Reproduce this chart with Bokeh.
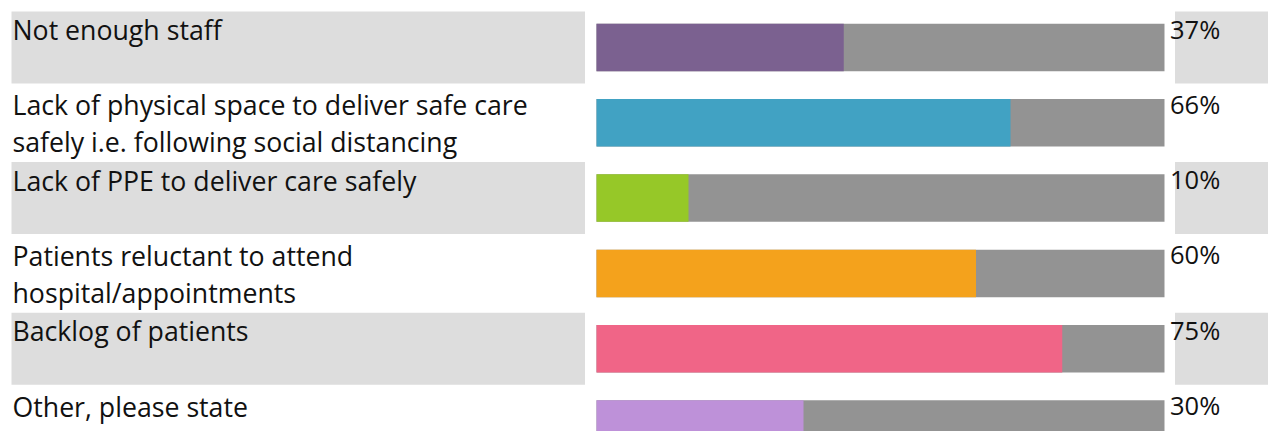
from bokeh.plotting import figure
from bokeh.models import Range1d, ColumnDataSource
from bokeh.embed import file_html
from bokeh.resources import INLINE
from bokeh.core.properties import value

# ---- data ----
categories = [
    "Not enough staff",
    "Lack of physical space to deliver safe care\nsafely i.e. following social distancing",
    "Lack of PPE to deliver care safely",
    "Patients reluctant to attend\nhospital/appointments",
    "Backlog of patients",
    "Other, please state",
]
percent = [37, 66, 10, 60, 75, 30]
colors = ["#7B6190", "#41A2C3", "#96C828", "#F4A21C", "#F06587", "#BE91D9"]
pct_labels = [f"{v}%" for v in percent]

# ---- layout constants (data units: x in percent, y in rows) ----
W, H = 1268, 431
PX0, PX_PER_PCT = 630.5, 5.75          # px of 0 % and px per %
ROW0_PX, ROW_PX = 47.0, 75.3           # px of first row centre, row pitch


def xd(px):
    return (px - PX0) / PX_PER_PCT


def yd(px):
    return (px - ROW0_PX) / ROW_PX


BAR_START = xd(596)
TRACK_END = xd(1164)
BAR_H = 47.5 / ROW_PX
PANEL_H = 72.0 / ROW_PX
FONT = value("Open Sans")

rows = list(range(len(categories)))
shaded = [r for r in rows if r % 2 == 0]

p = figure(width=W, height=H,
           x_range=Range1d(xd(0), xd(W)),
           y_range=Range1d(yd(H), yd(0)),
           output_backend="svg", toolbar_location=None,
           min_border=0, outline_line_color=None,
           background_fill_color="white", border_fill_color="white")
p.axis.visible = False
p.grid.visible = False

# shaded label panels (left and right)
p.hbar(y=shaded, left=xd(11), right=xd(584.5), height=PANEL_H,
       fill_color="#DDDDDD", line_color=None)
p.hbar(y=shaded, left=xd(1174.5), right=xd(1300), height=PANEL_H,
       fill_color="#DDDDDD", line_color=None)

# grey track + coloured value bar
p.hbar(y=rows, left=BAR_START, right=TRACK_END, height=BAR_H,
       fill_color="#939393", line_color=None)
src = ColumnDataSource(dict(y=rows, right=percent, color=colors))
p.hbar(y="y", left=BAR_START, right="right", height=BAR_H,
       fill_color="color", line_color=None, source=src)

# category labels (split into lines)
lx, ly, lt = [], [], []
for r, cat in zip(rows, categories):
    for k, line in enumerate(cat.split("\n")):
        lx.append(xd(12))
        ly.append(r + yd(ROW0_PX - 18 + 37 * k))
        lt.append(line)
p.text(x=lx, y=ly, text=lt, text_font=FONT, text_font_size="26.7px",
       text_color="#111111", text_baseline="alphabetic", text_align="left")

# percentage labels
p.text(x=[xd(1169.5)] * len(rows), y=[r + yd(ROW0_PX - 19) for r in rows],
       text=pct_labels, text_font=FONT, text_font_size="25.5px",
       text_color="#111111", text_baseline="alphabetic", text_align="left")

open("out.html", "w").write(file_html(p, INLINE))
